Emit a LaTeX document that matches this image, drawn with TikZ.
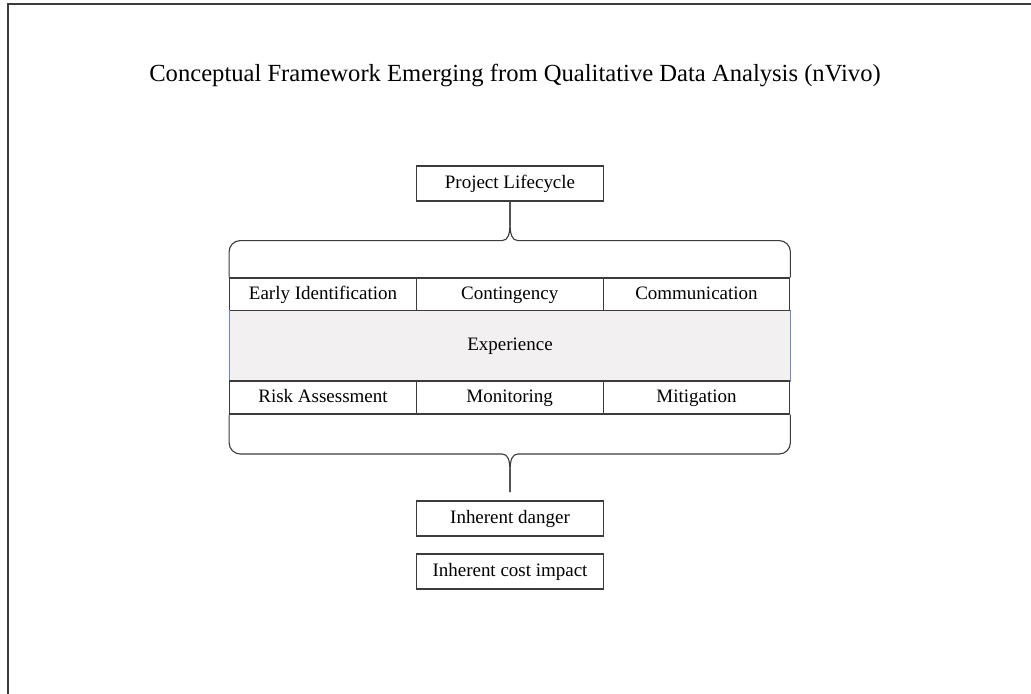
\documentclass[tikz,border=0pt]{standalone}
\usepackage{fontspec}
\setmainfont{Liberation Serif}
\usepackage{tikz}
\usetikzlibrary{arrows}

\definecolor{linegray}{HTML}{3C3C3C}
\definecolor{bandgray}{HTML}{F2F0F0}
\definecolor{bandblue}{HTML}{6A8CC0}

\begin{document}
\begin{tikzpicture}[-,auto,x=0.025cm,y=-0.025cm,node distance=4.667cm,
                    line width=0.8pt,draw=linegray,
                    cell node/.style={rectangle,draw=linegray,minimum width=4.667cm,minimum height=0.825cm,
                                      inner sep=0pt,text height=9.5pt,text depth=3pt,
                                      font=\fontsize{13.5}{16}\selectfont},
                    box node/.style={rectangle,draw=linegray,minimum width=4.675cm,minimum height=0.875cm,
                                     inner sep=0pt,text height=9.5pt,text depth=3pt,
                                     font=\fontsize{13.5}{16}\selectfont}]

  \useasboundingbox (0,0) rectangle (1031,694);
  \draw[linegray,line width=1.2pt] (8,694) -- (8,4) -- (1031,4);

  %Title%
  \node (title) at (515,75) {\fontsize{17.5}{20}\selectfont Conceptual Framework Emerging from Qualitative Data Analysis (nVivo)};

  %Boxes%
  \node[box node] (life) at (510,183.5) {Project Lifecycle};
  \node[box node] (danger) at (510,518.5) {Inherent danger};
  \node[box node] (cost) at (510,571.5) {Inherent cost impact};

  %Table%
  \node[cell node] (ei) at (323,294.5) {Early Identification};
  \node[cell node] (cont) [right of=ei] {Contingency};
  \node[cell node] (comm) [right of=cont] {Communication};
  \node[rectangle,fill=bandgray,minimum width=14cm,minimum height=1.75cm,inner sep=0pt,
        text height=9.5pt,text depth=3pt,font=\fontsize{13.5}{16}\selectfont] (exp) at (510,346) {Experience};
  \draw[bandblue,line width=0.5pt] (exp.north west) -- (exp.south west)
                                   (exp.north east) -- (exp.south east);
  \node[cell node] (ra) at (323,397.5) {Risk Assessment};
  \node[cell node] (mon) [right of=ra] {Monitoring};
  \node[cell node] (mit) [right of=mon] {Mitigation};

  %Braces%
  \coordinate (tip) at (510,492);
  \draw[linegray] (life.south) -- ++(0,21) .. controls +(0,12) and +(6,0) .. ++(-8,18)
        [rounded corners=8pt] -| (ei.north west);
  \draw[linegray] (life.south) -- ++(0,21) .. controls +(0,12) and +(-6,0) .. ++(8,18)
        [rounded corners=8pt] -| (comm.north east);
  \draw[linegray] (tip) -- ++(0,-20) .. controls +(0,-12) and +(6,0) .. ++(-8,-18)
        [rounded corners=8pt] -| (ra.south west);
  \draw[linegray] (tip) -- ++(0,-20) .. controls +(0,-12) and +(-6,0) .. ++(8,-18)
        [rounded corners=8pt] -| (mit.south east);
\end{tikzpicture}
\end{document}
